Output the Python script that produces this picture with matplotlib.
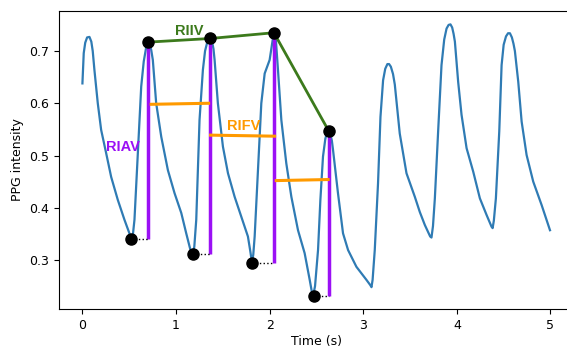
import matplotlib.pyplot as plt
import numpy as np

# PPG-Signal
time_s = [0.0, 0.014, 0.030, 0.050, 0.075, 0.095, 0.110, 0.128, 0.164, 0.200, 0.253, 0.307, 0.378,
          0.449, 0.500, 0.520, 0.540, 0.556, 0.592, 0.628, 0.655, 0.680, 0.700, 0.718, 0.735, 0.752,
          0.788, 0.842, 0.913, 0.984, 1.056, 1.109, 1.150, 1.175, 1.195, 1.216, 1.233, 1.251, 1.287,
          1.310, 1.335, 1.366, 1.385, 1.400, 1.412, 1.447, 1.501, 1.555, 1.626, 1.697, 1.768, 1.795,
          1.811, 1.825, 1.840, 1.875, 1.911, 1.947, 2.000, 2.025, 2.040, 2.052, 2.068, 2.089, 2.125,
          2.178, 2.232, 2.303, 2.374, 2.428, 2.452, 2.465, 2.485, 2.517, 2.542, 2.570, 2.595, 2.615,
          2.631, 2.648, 2.665, 2.677, 2.730, 2.784, 2.838, 2.927, 3.034, 3.075, 3.088, 3.100, 3.123,
          3.158, 3.184, 3.212, 3.235, 3.258, 3.276, 3.295, 3.318, 3.337, 3.390, 3.462, 3.551, 3.604,
          3.658, 3.715, 3.729, 3.745, 3.765, 3.800, 3.836, 3.865, 3.890, 3.912, 3.932, 3.950, 3.965,
          3.979, 4.014, 4.050, 4.104, 4.175, 4.246, 4.318, 4.370, 4.382, 4.395, 4.417, 4.453, 4.478,
          4.500, 4.525, 4.547, 4.567, 4.588, 4.605, 4.620, 4.656, 4.692, 4.745, 4.816, 4.906, 4.995]
ppg = [0.638, 0.696, 0.716, 0.726, 0.727, 0.718, 0.700, 0.664, 0.600, 0.549, 0.505, 0.459, 0.415,
       0.377, 0.352, 0.341, 0.350, 0.377, 0.504, 0.632, 0.680, 0.706, 0.717, 0.714, 0.702, 0.683,
       0.600, 0.536, 0.472, 0.428, 0.390, 0.351, 0.322, 0.311, 0.325, 0.377, 0.472, 0.568, 0.664,
       0.700, 0.718, 0.724, 0.718, 0.704, 0.683, 0.600, 0.517, 0.466, 0.421, 0.383, 0.345, 0.315,
       0.295, 0.310, 0.345, 0.472, 0.600, 0.657, 0.683, 0.712, 0.730, 0.734, 0.718, 0.664, 0.568,
       0.485, 0.421, 0.357, 0.313, 0.262, 0.238, 0.232, 0.250, 0.319, 0.415, 0.498, 0.532, 0.545,
       0.547, 0.542, 0.528, 0.511, 0.428, 0.351, 0.319, 0.287, 0.262, 0.252, 0.248, 0.262, 0.319,
       0.447, 0.574, 0.644, 0.666, 0.675, 0.675, 0.670, 0.656, 0.636, 0.542, 0.466, 0.421, 0.392,
       0.367, 0.345, 0.343, 0.365, 0.418, 0.546, 0.673, 0.722, 0.743, 0.750, 0.751, 0.745, 0.733,
       0.718, 0.641, 0.578, 0.514, 0.469, 0.418, 0.386, 0.364, 0.361, 0.375, 0.418, 0.546, 0.673,
       0.712, 0.728, 0.734, 0.734, 0.726, 0.714, 0.700, 0.641, 0.565, 0.501, 0.450, 0.405, 0.357]

# Maxima / Minima der ersten vier Schläge
peak_t = [0.700, 1.366, 2.046, 2.631]
peak_v = [0.717, 0.724, 0.735, 0.547]
trough_t = [0.520, 1.180, 1.811, 2.470]
trough_v = [0.341, 0.311, 0.295, 0.232]

# RIFV-Intervalle (Start, Ende, Höhe links, Höhe rechts)
rifv_start = [0.735, 1.369, 2.071]
rifv_end = [1.348, 2.053, 2.624]
rifv_y0 = [0.598, 0.539, 0.452]
rifv_y1 = [0.600, 0.537, 0.454]

purple = '#9b10f5'
green = '#3c7a1c'
orange = '#ff9a00'

fig = plt.figure(figsize=(5.67, 3.47), dpi=100)
ax = fig.add_axes([0.1041, 0.1095, 0.908, 0.8588])

ax.plot(time_s, ppg, color='#2f7bb4', lw=1.6, zorder=2)

# RIAV: vertikale Linien von Minimum bis Maximum
ax.vlines(peak_t, trough_v, peak_v, color=purple, lw=2.5, zorder=3)
for i in range(len(peak_t)):
    ax.plot([trough_t[i], peak_t[i]], [trough_v[i], trough_v[i]], ':', color='black', lw=1, zorder=3)

# RIFV: Abstände zwischen den Maxima
for i in range(len(rifv_start)):
    ax.plot([rifv_start[i], rifv_end[i]], [rifv_y0[i], rifv_y1[i]], color=orange, lw=2.2, zorder=3)

# RIIV: Verbindung der Maxima
ax.plot(peak_t, peak_v, color=green, lw=2, zorder=4)
ax.plot(peak_t, peak_v, 'o', color='black', ms=8, zorder=5)
ax.plot(trough_t, trough_v, 'o', color='black', ms=8, zorder=5)

tf = dict(family=['Liberation Sans', 'DejaVu Sans'], fontweight='bold', fontsize=10.5)
ax.text(0.255, 0.508, 'RIAV', color=purple, **tf)
ax.text(1.54, 0.548, 'RIFV', color=orange, **tf)
ax.text(0.985, 0.731, 'RIIV', color=green, **tf)

ax.set_xlim(-0.25, 5.25)
ax.set_ylim(0.2062, 0.7766)
ax.set_xticks([0, 1, 2, 3, 4, 5])
ax.set_yticks([0.3, 0.4, 0.5, 0.6, 0.7])
ax.set_xlabel('Time (s)', fontsize=9, labelpad=2)
ax.set_ylabel('PPG intensity', fontsize=9, labelpad=4)
ax.tick_params(labelsize=9)

fig.savefig('out.png', dpi=100)
